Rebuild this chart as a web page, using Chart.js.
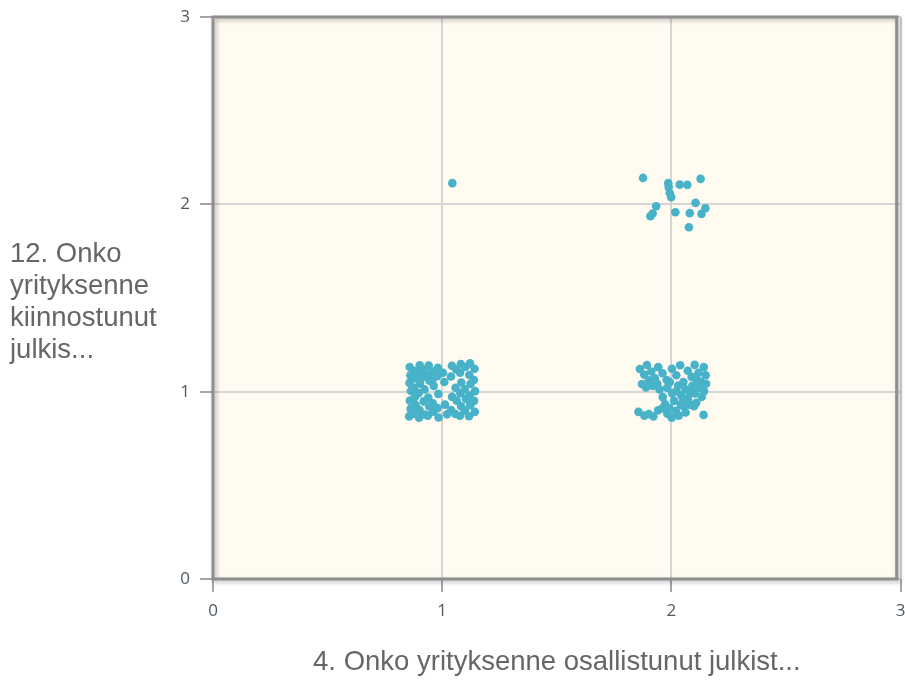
<!DOCTYPE html>
<html>
<head>
<meta charset="utf-8">
<script src="https://cdn.jsdelivr.net/npm/chart.js@4/dist/chart.umd.min.js"></script>
<style>
  html, body { margin: 0; padding: 0; background: #ffffff; }
  #wrap { width: 905px; height: 681px; }
</style>
</head>
<body>
<div id="wrap"><canvas id="c" width="905" height="681"></canvas></div>
<script>
// Axis titles and tick values
const xTitle = '4. Onko yrityksenne osallistunut julkist...';
const yTitleLines = ['12. Onko', 'yrityksenne', 'kiinnostunut', 'julkis...'];
const xTicks = [0, 1, 2, 3];
const yTicks = [0, 1, 2, 3];

// Jittered answers: [answer to question 4, answer to question 12]
const answersOneOne = [
  [0.858, 1.132], [0.861, 1.088], [0.857, 1.047], [0.863, 1.004], [0.859, 0.952], [0.862, 0.908], [0.856, 0.868],
  [0.879, 1.112], [0.883, 1.071], [0.877, 1.021], [0.881, 0.972], [0.884, 0.928], [0.878, 0.882],
  [0.902, 1.141], [0.898, 1.098], [0.903, 1.043], [0.897, 0.992], [0.901, 0.902], [0.899, 0.861],
  [0.921, 1.118], [0.918, 1.079], [0.923, 1.012], [0.919, 0.948], [0.924, 0.878],
  [0.941, 1.139], [0.938, 1.091], [0.944, 1.058], [0.939, 0.968], [0.943, 0.921], [0.937, 0.872],
  [0.962, 1.108], [0.958, 1.067], [0.963, 1.031], [0.959, 0.938], [0.961, 0.893],
  [0.981, 1.128], [0.978, 1.082], [0.983, 0.988], [0.979, 0.912], [0.984, 0.862],
  [1.003, 1.101], [1.012, 0.931], [1.021, 0.879], [1.009, 1.052],
  [1.042, 1.138], [1.038, 1.081], [1.043, 0.972], [1.039, 0.902],
  [1.061, 1.118], [1.058, 1.021], [1.063, 0.952], [1.057, 0.881],
  [1.081, 1.148], [1.078, 1.101], [1.083, 1.049], [1.079, 0.992], [1.082, 0.922], [1.077, 0.871],
  [1.101, 1.132], [1.098, 1.012], [1.103, 0.961], [1.099, 0.898],
  [1.121, 1.151], [1.118, 1.089], [1.123, 1.041], [1.119, 0.981], [1.122, 0.928], [1.117, 0.869],
  [1.141, 1.122], [1.138, 1.062], [1.143, 1.003], [1.139, 0.951], [1.142, 0.892]
];

const answersTwoOne = [
  [1.862, 1.121], [1.881, 1.091], [1.893, 1.142], [1.912, 1.108], [1.928, 1.072], [1.942, 1.131],
  [1.961, 1.098], [1.979, 1.062], [2.002, 1.122], [2.021, 1.088], [2.038, 1.141], [2.052, 1.052],
  [2.071, 1.112], [2.088, 1.079], [2.101, 1.143], [2.118, 1.101], [2.129, 1.051], [2.141, 1.131], [2.149, 1.088],
  [1.871, 1.041], [1.889, 1.022], [1.918, 1.031], [1.948, 1.012], [1.962, 0.971], [1.981, 1.021],
  [2.003, 0.992], [2.011, 0.951], [2.029, 1.032], [2.042, 0.981], [2.061, 1.012], [2.072, 0.962],
  [2.091, 1.031], [2.102, 0.991], [2.121, 1.022], [2.132, 0.972], [2.142, 1.003], [2.151, 1.042],
  [1.972, 0.932], [1.993, 1.052], [1.902, 1.061], [1.938, 1.042], [2.022, 1.002], [2.051, 0.961],
  [2.081, 0.992], [2.112, 1.061], [1.991, 0.912], [2.041, 0.931], [2.098, 0.922],
  [1.856, 0.892], [1.882, 0.872], [1.901, 0.881], [1.921, 0.868], [1.942, 0.901], [1.961, 0.911],
  [1.982, 0.882], [2.001, 0.861], [2.019, 0.898], [2.032, 0.872], [2.053, 0.921], [2.062, 0.889],
  [2.079, 0.931], [2.108, 0.941], [2.140, 0.876]
];

const answersTwoTwo = [
  [1.876, 2.141], [1.986, 2.113], [1.988, 2.092], [1.993, 2.059], [1.999, 2.038], [2.036, 2.105],
  [2.069, 2.104], [2.127, 2.136], [1.933, 1.990], [1.908, 1.937], [1.918, 1.951], [2.017, 1.958],
  [2.080, 1.953], [2.105, 2.008], [2.131, 1.949], [2.148, 1.979], [2.076, 1.878]
];

const answersOneTwo = [
  [1.044, 2.113]
];

const allAnswers = answersOneOne.concat(answersTwoOne, answersTwoTwo, answersOneTwo)
  .map(([x, y]) => ({ x, y }));

const labelFont = '"Liberation Sans", Arial, sans-serif';

// Cream plot background, framed with a grey border and soft shadow,
// plus the horizontal multi-line y title on the left.
const framePlugin = {
  id: 'frame',
  beforeDraw(chart) {
    const { ctx, chartArea: a } = chart;
    ctx.save();
    ctx.fillStyle = '#fffbf1';
    ctx.fillRect(a.left, a.top, a.right - 4 - a.left, a.bottom - a.top);
    ctx.restore();
  },
  beforeDatasetsDraw(chart) {
    const { ctx, chartArea: a } = chart;
    ctx.save();
    ctx.shadowColor = 'rgba(0,0,0,0.28)';
    ctx.shadowBlur = 4;
    ctx.shadowOffsetX = 2;
    ctx.shadowOffsetY = 2;
    ctx.strokeStyle = '#8e8e8e';
    ctx.lineWidth = 3;
    ctx.strokeRect(a.left, a.top, a.right - 4 - a.left, a.bottom - a.top);
    ctx.restore();

    ctx.save();
    ctx.fillStyle = '#666666';
    ctx.font = '27.5px ' + labelFont;
    ctx.textAlign = 'left';
    ctx.textBaseline = 'alphabetic';
    yTitleLines.forEach((line, i) => {
      ctx.fillText(line, 10, 261.5 + i * 32.3);
    });
    ctx.restore();
  }
};

const tickFont = { family: '"Open Sans", "Liberation Sans", sans-serif', size: 17 };

new Chart(document.getElementById('c'), {
  type: 'scatter',
  data: {
    datasets: [{
      data: allAnswers,
      backgroundColor: '#48b2c8',
      borderWidth: 0,
      pointRadius: 4.3,
      pointHoverRadius: 4.3
    }]
  },
  options: {
    responsive: false,
    animation: false,
    layout: { padding: { top: 17, right: 1, bottom: 0, left: 0 } },
    plugins: { legend: { display: false }, tooltip: { enabled: false } },
    scales: {
      x: {
        type: 'linear',
        min: 0,
        max: 3,
        afterBuildTicks: (s) => { s.ticks = xTicks.map(v => ({ value: v })); },
        afterFit: (s) => { s.height = 102; s.paddingRight = 0; s.paddingLeft = 0; },
        ticks: { stepSize: 1, color: '#4f5964', font: tickFont, padding: 9 },
        grid: { color: '#d5d5d5', lineWidth: 2, tickColor: '#a6a6a6', tickLength: 13 },
        border: { display: false },
        title: {
          display: true,
          text: xTitle,
          color: '#666666',
          font: { family: labelFont, size: 27.5 },
          padding: { top: 0, bottom: 2 }
        }
      },
      y: {
        type: 'linear',
        min: 0,
        max: 3,
        afterBuildTicks: (s) => { s.ticks = yTicks.map(v => ({ value: v })); },
        afterFit: (s) => { s.width = 213; s.paddingTop = 0; s.paddingBottom = 0; },
        ticks: { stepSize: 1, color: '#4f5964', font: tickFont, padding: 10 },
        grid: { color: '#d5d5d5', lineWidth: 2, tickColor: '#a6a6a6', tickLength: 13 },
        border: { display: false },
        title: { display: false }
      }
    }
  },
  plugins: [framePlugin]
});
</script>
</body>
</html>
